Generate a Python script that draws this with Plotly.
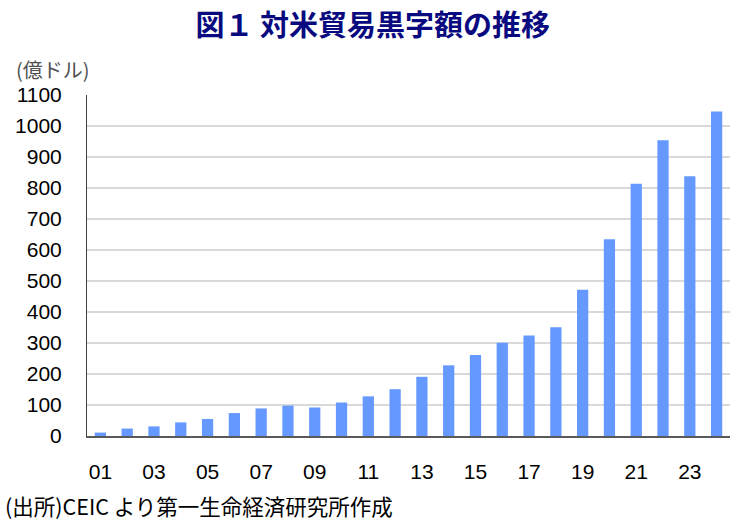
import plotly.graph_objects as go

years = ["01", "02", "03", "04", "05", "06", "07", "08", "09", "10", "11", "12",
         "13", "14", "15", "16", "17", "18", "19", "20", "21", "22", "23", "24"]
surplus = [11, 24, 31, 44, 55, 74, 89, 98, 92, 108, 128, 151,
           191, 228, 261, 301, 324, 351, 472, 635, 814, 954, 838, 1047]
tick_labels = ["01", "03", "05", "07", "09", "11", "13", "15", "17", "19", "21", "23"]
y_ticks = list(range(0, 1101, 100))

title_text = "図１ 対米貿易黒字額の推移"
unit_text = "(億ドル)"
source_text = "(出所)CEIC より第一生命経済研究所作成"

fig = go.Figure()
fig.add_trace(go.Bar(
    x=years, y=surplus,
    marker=dict(color="#6699ff", line=dict(width=0)),
    hoverinfo="x+y",
))

fig.update_layout(
    width=738, height=520,
    margin=dict(l=87, r=8, t=95, b=84),
    paper_bgcolor="white", plot_bgcolor="white",
    bargap=0.58,
    showlegend=False,
    font=dict(family="Liberation Sans, Arial, sans-serif", size=21, color="#000000"),
    title=dict(
        text=title_text,
        font=dict(family="Noto Sans CJK JP", size=29, color="#0a0a80", weight="bold"),
        x=0.505, xref="container", xanchor="center",
        y=1 - 26 / 520, yref="container", yanchor="middle",
    ),
)

fig.update_xaxes(
    type="category",
    tickmode="array", tickvals=tick_labels, ticktext=tick_labels,
    showgrid=False,
    showline=True, linecolor="#595959", linewidth=2,
    ticks="", ticklabelstandoff=16,
    tickfont=dict(family="Liberation Sans, Arial, sans-serif", size=21, color="#000000"),
    range=[-0.5, 23.5],
)
fig.update_yaxes(
    range=[0, 1100],
    tickmode="array", tickvals=y_ticks,
    showgrid=True, gridcolor="#d9d9d9", gridwidth=1.5,
    showline=True, linecolor="#404040", linewidth=1,
    zeroline=False,
    ticks="", ticklabelstandoff=20,
    tickfont=dict(family="Liberation Sans, Arial, sans-serif", size=21, color="#000000"),
)

fig.add_annotation(
    text=unit_text, xref="paper", yref="paper", x=-87 / 643, y=1 + 26 / 341,
    xanchor="left", yanchor="middle", showarrow=False, xshift=14,
    font=dict(family="Noto Sans CJK JP", size=20, color="#505050"),
)
fig.add_annotation(
    text=source_text, xref="paper", yref="paper", x=-87 / 643, y=-(505 - 436) / 341,
    xanchor="left", yanchor="middle", showarrow=False, xshift=3,
    font=dict(family="Noto Sans CJK JP", size=21.5, color="#000000"),
)

fig.write_html(
    "out.html",
    config={"displayModeBar": False},
    post_script="document.body.style.margin='0';document.body.style.padding='0';",
)
